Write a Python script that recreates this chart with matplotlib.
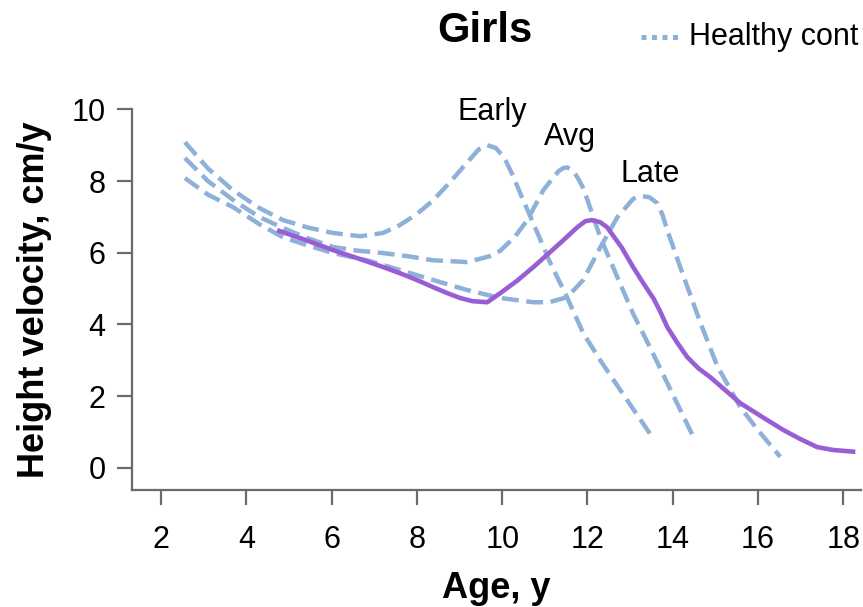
import matplotlib
matplotlib.use("Agg")
import matplotlib.pyplot as plt
from matplotlib.lines import Line2D

plt.rcParams['font.family'] = ['Liberation Sans', 'DejaVu Sans']

# Healthy control velocity curves (age in years, velocity in cm/y)
early_age = [2.56, 3.1, 3.69, 4.3, 4.86, 5.45, 6.04, 6.67, 7.2, 7.6, 8.0, 8.38, 8.8, 9.18, 9.45, 9.65,
             9.85, 10.05, 10.25, 10.49, 10.73, 11.13, 11.52, 11.9, 12.3, 12.93, 13.52]
early_vel = [9.08, 8.35, 7.74, 7.25, 6.91, 6.7, 6.55, 6.46, 6.55, 6.77, 7.08, 7.46, 8.0, 8.52, 8.88, 9.0,
             8.92, 8.65, 8.15, 7.47, 6.82, 5.71, 4.76, 3.76, 3.0, 1.89, 0.86]

avg_age = [2.56, 3.1, 3.69, 4.3, 4.86, 5.45, 6.04, 6.6, 7.21, 7.8, 8.38, 9.18, 9.7, 9.95, 10.3, 10.59,
           10.96, 11.2, 11.32, 11.43, 11.52, 11.6, 11.68, 11.76, 11.88, 12.0, 12.3, 12.7, 13.07, 13.45,
           13.87, 14.46]
avg_vel = [8.64, 8.0, 7.47, 7.0, 6.69, 6.4, 6.16, 6.06, 5.99, 5.9, 5.79, 5.74, 5.9, 6.05, 6.45, 6.91,
           7.74, 8.1, 8.27, 8.36, 8.38, 8.33, 8.25, 8.11, 7.85, 7.47, 6.43, 5.32, 4.3, 3.4,
           2.37, 0.92]

late_age = [2.56, 3.1, 3.69, 4.3, 4.86, 5.45, 6.04, 6.83, 7.6, 8.38, 9.18, 9.95, 10.73, 11.1, 11.52,
            11.9, 12.3, 12.7, 13.07, 13.24, 13.45, 13.64, 13.76, 13.87, 14.25, 14.65, 15.04, 15.58,
            16.0, 16.52]
late_vel = [8.08, 7.62, 7.27, 6.8, 6.43, 6.2, 5.99, 5.79, 5.52, 5.24, 4.96, 4.74, 4.62, 4.62, 4.76,
            5.24, 6.15, 6.99, 7.5, 7.58, 7.55, 7.38, 7.05, 6.63, 5.35, 4.04, 2.85, 1.7,
            1.05, 0.31]

# Patient velocity curve
pt_age = [4.72, 5.4, 6.04, 6.6, 7.21, 7.6, 8.0, 8.38, 8.7, 9.01, 9.3, 9.65, 9.95, 10.35, 10.73, 11.36,
          11.76, 11.95, 12.1, 12.3, 12.46, 12.8, 13.07, 13.31, 13.55, 13.71, 13.87, 14.1, 14.34, 14.6,
          14.88, 15.2, 15.58, 16.1, 16.59, 17.0, 17.39, 17.77, 18.28]
pt_vel = [6.63, 6.35, 6.07, 5.85, 5.6, 5.43, 5.24, 5.04, 4.88, 4.74, 4.65, 4.62, 4.87, 5.22, 5.6, 6.27,
          6.71, 6.88, 6.91, 6.85, 6.71, 6.15, 5.6, 5.15, 4.72, 4.35, 3.93, 3.5, 3.09, 2.78,
          2.53, 2.2, 1.81, 1.42, 1.06, 0.8, 0.58, 0.5, 0.45]

# Curve labels: text, age, velocity (baseline)
curve_labels = ["Early", "Avg", "Late"]
label_age = [9.77, 11.6, 13.47]
label_vel = [9.69, 9.0, 7.97]

x_ticks = [2, 4, 6, 8, 10, 12, 14, 16, 18]
y_ticks = [0, 2, 4, 6, 8, 10]

BLUE = "#8EB1D9"
PURPLE = "#9A5ED4"
GREY = "#6b6b6b"

fig = plt.figure(figsize=(8.63, 6.07), dpi=100)
ax = fig.add_axes([0.153, 0.193, 0.845, 0.627])

dash = dict(color=BLUE, lw=3.2, ls=(0, (3.8, 1.7)), dash_joinstyle='round')
ax.plot(early_age, early_vel, **dash)
ax.plot(avg_age, avg_vel, **dash)
ax.plot(late_age, late_vel, **dash)
ax.plot(pt_age, pt_vel, color=PURPLE, lw=3.3, solid_capstyle='butt', solid_joinstyle='round')

for t, xa, yv in zip(curve_labels, label_age, label_vel):
    ax.text(xa, yv, t, ha='center', va='baseline', fontsize=22)

ax.set_xlim(1.32, 18.42)
ax.set_ylim(-0.61, 10)
ax.set_xticks(x_ticks)
ax.set_yticks(y_ticks)
for s in ['top', 'right']:
    ax.spines[s].set_visible(False)
for s in ['left', 'bottom']:
    ax.spines[s].set_color(GREY)
    ax.spines[s].set_linewidth(1.6)
ax.tick_params(axis='both', direction='out', length=11, width=1.6, color=GREY, labelsize=22)
ax.tick_params(axis='x', pad=14)
ax.tick_params(axis='y', pad=8)

ax.set_xlabel("Age, y", fontsize=26, fontweight='bold', labelpad=12)
ax.set_ylabel("Height velocity, cm/y", fontsize=26, fontweight='bold', labelpad=14)

fig.text(0.562, 0.949, "Girls", ha='center', va='center', fontsize=30, fontweight='bold')

# Legend entry drawn in figure coordinates
fig.add_artist(Line2D([641 / 863, 678 / 863], [1 - 37 / 607] * 2, transform=fig.transFigure,
                      color=BLUE, lw=3.6, ls=(0, (1, 1.1)), solid_capstyle='butt'))
fig.text(689 / 863, 1 - 37 / 607, "Healthy cont", ha='left', va='center', fontsize=22)

fig.savefig("out.png", dpi=100)
